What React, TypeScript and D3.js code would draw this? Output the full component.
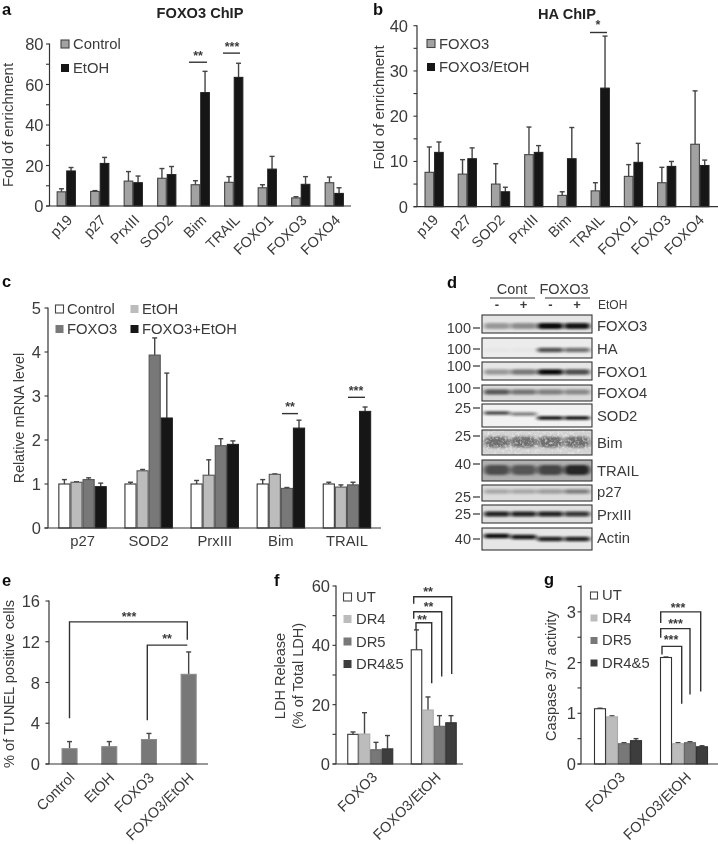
import React from "react";
import * as d3 from "d3";

// ---------- data ----------
const genesA = ["p19", "p27", "PrxIII", "SOD2", "Bim", "TRAIL", "FOXO1", "FOXO3", "FOXO4"];
const aControl = [7, 7.2, 12.3, 13.7, 10.5, 11.7, 9, 4, 11.5];
const aControlTop = [8.5, 7.6, 17, 18.5, 12.5, 14.5, 10.5, 4.6, 14.3];
const aEtOH = [17.3, 21, 11.5, 15.5, 56, 63.5, 18.2, 10.7, 6.2];
const aEtOHTop = [19, 24, 14.8, 19.5, 66.5, 70.5, 24.5, 14.5, 9];

const genesB = ["p19", "p27", "SOD2", "PrxIII", "Bim", "TRAIL", "FOXO1", "FOXO3", "FOXO4"];
const bFoxo = [7.6, 7.2, 5, 11.5, 2.5, 3.5, 6.7, 5.3, 13.8];
const bFoxoTop = [13.2, 10.4, 9.5, 17.6, 3.3, 5.3, 9.3, 8.7, 25.6];
const bEtOH = [12, 10.6, 3.3, 12, 10.6, 26.2, 9.8, 8.9, 9.1];
const bEtOHTop = [14.3, 13, 4.3, 13.5, 17.5, 37.7, 14, 10, 10.3];

const genesC = ["p27", "SOD2", "PrxIII", "Bim", "TRAIL"];
const cControl = [1, 1, 1, 1, 1];
const cControlTop = [1.1, 1.04, 1.08, 1.1, 1.04];
const cEtOH = [1.04, 1.3, 1.2, 1.22, 0.93];
const cEtOHTop = [1.05, 1.33, 1.55, 1.23, 0.98];
const cFoxo = [1.1, 3.93, 1.87, 0.9, 0.98];
const cFoxoTop = [1.14, 4.32, 2.03, 0.92, 1.04];
const cBoth = [0.94, 2.5, 1.9, 2.27, 2.65];
const cBothTop = [1.02, 3.52, 1.98, 2.45, 2.75];

const groupsE = ["Control", "EtOH", "FOXO3", "FOXO3/EtOH"];
const eValues = [1.5, 1.7, 2.4, 8.8];
const eTops = [2.2, 2.2, 3, 11];

const groupsFG = ["FOXO3", "FOXO3/EtOH"];
const fUT = [10, 38.5];
const fUTTop = [10.8, 45.2];
const fDR4 = [10.1, 18.2];
const fDR4Top = [17.3, 22.6];
const fDR5 = [4.8, 12.7];
const fDR5Top = [7.3, 16.3];
const fDR45 = [5.1, 13.9];
const fDR45Top = [9.6, 16.3];

const gUT = [1.09, 2.1];
const gUTTop = [1.1, 2.11];
const gDR4 = [0.93, 0.4];
const gDR4Top = [0.95, 0.42];
const gDR5 = [0.4, 0.42];
const gDR5Top = [0.42, 0.44];
const gDR45 = [0.46, 0.34];
const gDR45Top = [0.5, 0.36];

// relative band intensity in the four lanes of panel d
const blotFOXO3 = [0.35, 0.4, 1, 0.95];
const blotHA = [0.02, 0.02, 0.7, 0.55];
const blotFOXO1 = [0.35, 0.5, 1, 0.7];
const blotFOXO4 = [0.65, 0.5, 0.45, 0.4];
const blotSOD2 = [0.75, 0.5, 1, 1];
const blotBim = [0.5, 0.5, 0.5, 0.5];
const blotTRAIL = [0.6, 0.55, 0.65, 0.85];
const blotP27 = [0.25, 0.25, 0.3, 0.45];
const blotPrxIII = [0.9, 0.9, 0.9, 0.8];
const blotActin = [1, 0.95, 0.9, 0.9];

// ---------- style ----------
const INK = "#3a3a3a";
const FONT = "'Liberation Sans', Arial, sans-serif";
const GREY_A = "#a2a2a2";
const BLACK = "#161616";
const LIGHT = "#bcbcbc";
const MID = "#787878";
const DARK = "#3c3c3c";

type Series = { label: string; values: number[]; tops: number[]; fill: string; stroke: string };
type LegendItem = { label: string; fill: string; x: number; y: number; tx?: number };
type Bracket = { pts: [number, number][]; stars: string; sx: number; sy: number };

function Panel(p: {
  cats: string[]; series: Series[]; x0: number; x1: number; axisX: number; axisEnd?: number;
  yTop: number; yBottom: number; domainMax: number; ticks: number[]; minor: number[];
  barW: number; labelGap: number; rotate: boolean; labelSize?: number; capped?: boolean;
  brackets: Bracket[]; legend: LegendItem[]; swatch?: number; dx?: number; dy?: number;
}) {
  const x = d3.scaleBand<string>().domain(p.cats).range([p.x0, p.x1]);
  const y = d3.scaleLinear().domain([0, p.domainMax]).range([p.yBottom, p.yTop]);
  const n = p.series.length;
  const sw = p.swatch ?? 8;
  return (
    <g fontFamily={FONT} fill={INK}>
      {p.series.map((s, si) => p.cats.map((c, i) => {
        const cx = x(c)! + x.bandwidth() / 2;
        const bx = cx + (si - n / 2) * p.barW;
        const mid = bx + p.barW / 2;
        return (
          <g key={c + si}>
            <line x1={mid} x2={mid} y1={y(s.values[i])} y2={y(s.tops[i])} stroke="#444" strokeWidth={1.4} />
            <line x1={mid - 2.5} x2={mid + 2.5} y1={y(s.tops[i])} y2={y(s.tops[i])} stroke="#444" strokeWidth={1.4} />
            <rect x={bx + 0.5} y={y(s.values[i])} width={p.barW - 1} height={p.yBottom - y(s.values[i])}
              fill={s.fill} stroke={s.stroke} strokeWidth={1.1} />
          </g>
        );
      }))}
      <line x1={p.axisX} x2={p.axisX} y1={p.yTop - 0.5} y2={p.yBottom} stroke="#333" strokeWidth={1.2} />
      <line x1={p.axisX - 3.5} x2={p.axisEnd ?? p.x1} y1={p.yBottom} y2={p.yBottom} stroke="#333" strokeWidth={1.2} />
      {p.minor.concat(p.ticks).map(t => (
        <line key={t} x1={p.axisX - 3.5} x2={p.axisX} y1={y(t)} y2={y(t)} stroke="#333" strokeWidth={1.1} />
      ))}
      {p.ticks.map(t => (
        <text key={t} x={p.axisX - p.labelGap} y={y(t) + 6} fontSize={16.5} textAnchor="end">{t}</text>
      ))}
      {p.cats.map(c => {
        const cx = x(c)! + x.bandwidth() / 2;
        return p.rotate ? (
          <text key={c} transform={`translate(${cx + (p.dx ?? 7)},${p.yBottom + (p.dy ?? 15)}) rotate(-45)`}
            fontSize={p.labelSize ?? 14.5} textAnchor="end">{c}</text>
        ) : (
          <text key={c} x={cx} y={p.yBottom + 18} fontSize={14.8} textAnchor="middle">{c}</text>
        );
      })}
      {p.brackets.map((b, i) => (
        <g key={i}>
          <path d={d3.line<[number, number]>().x(d => d[0]).y(d => y(d[1]))(b.pts)!}
            fill="none" stroke="#333" strokeWidth={1.4} />
          <text x={b.sx} y={y(b.sy)} fontSize={12.5} fontWeight={700} textAnchor="middle">{b.stars}</text>
        </g>
      ))}
      {p.legend.map(l => (
        <g key={l.label}>
          <rect x={l.x} y={l.y} width={sw} height={sw} fill={l.fill}
            stroke={l.fill === "#fff" || l.fill === GREY_A || l.fill === LIGHT ? "#444" : "none"}
            strokeWidth={l.fill === LIGHT ? 0 : 1.1} />
          <text x={l.tx ?? l.x + sw + 4} y={l.y + sw + 1} fontSize={14.8}>{l.label}</text>
        </g>
      ))}
    </g>
  );
}

const blotRows: any[] = [
  { name: "FOXO3", mw: "100", tickY: 328, top: 315, bottom: 333, bg: "#e4e4e4", values: blotFOXO3, bandH: 6, mid: 326, labelY: 326 },
  { name: "HA", mw: "100", tickY: 349, top: 338, bottom: 358, bg: "#ececec", values: blotHA, bandH: 4.5, mid: 350, labelY: 349 },
  { name: "FOXO1", mw: "100", tickY: 366, top: 362, bottom: 380, bg: "#e6e6e6", values: blotFOXO1, bandH: 5.5, mid: 372, labelY: 372 },
  { name: "FOXO4", mw: "100", tickY: 388, top: 385, bottom: 401, bg: "#dadada", values: blotFOXO4, bandH: 5, mid: 392, labelY: 393 },
  { name: "SOD2", mw: "25", tickY: 408, top: 404, bottom: 427, bg: "#f2f2f2", values: blotSOD2, bandH: 3.5, mid: 416, labelY: 416, shift: [-3, -2, 2, 2] },
  { name: "Bim", mw: "25", tickY: 436, top: 430, bottom: 455, bg: "#d2d2d2", values: blotBim, bandH: 11, mid: 442, labelY: 443, noisy: true },
  { name: "TRAIL", mw: "40", tickY: 464, top: 460, bottom: 481, bg: "#b0b0b0", values: blotTRAIL, bandH: 10, mid: 470, labelY: 471 },
  { name: "p27", mw: "25", tickY: 497, top: 485, bottom: 501, bg: "#dcdcdc", values: blotP27, bandH: 4.5, mid: 491.5, labelY: 492 },
  { name: "PrxIII", mw: "25", tickY: 514, top: 505, bottom: 523, bg: "#e0e0e0", values: blotPrxIII, bandH: 5, mid: 514, labelY: 515 },
  { name: "Actin", mw: "40", tickY: 539, top: 528, bottom: 550, bg: "#e6e6e6", values: blotActin, bandH: 4.5, mid: 538, labelY: 538, shift: [-2, -1, 1, 1] },
];
const lanes = ["Cont-", "Cont+", "FOXO3-", "FOXO3+"];
const laneSigns = ["-", "+", "-", "+"];

function Blots() {
  const lane = d3.scalePoint<string>().domain(lanes).range([497, 577]);
  return (
    <g fontFamily={FONT} fill={INK}>
      <text x={512} y={294} fontSize={14.5} textAnchor="middle">Cont</text>
      <text x={564} y={294} fontSize={14.5} textAnchor="middle">FOXO3</text>
      <line x1={490} x2={535} y1={298} y2={298} stroke="#333" strokeWidth={1.1} />
      <line x1={545} x2={590} y1={298} y2={298} stroke="#333" strokeWidth={1.1} />
      {lanes.map((l, i) => (
        <text key={l} x={lane(l)} y={309} fontSize={13} fontWeight={700} textAnchor="middle">{laneSigns[i]}</text>
      ))}
      <text x={598} y={309} fontSize={12}>EtOH</text>
      {blotRows.map(r => (
        <g key={r.name}>
          <clipPath id={`clip-${r.name}`}><rect x={482} y={r.top} width={110} height={r.bottom - r.top} /></clipPath>
          <rect x={482} y={r.top} width={110} height={r.bottom - r.top} fill={r.bg} />
          <g clipPath={`url(#clip-${r.name})`}>
            {r.values.map((v: number, i: number) => (
              <rect key={i} x={lane(lanes[i])! - 13} y={r.mid + (r.shift ? r.shift[i] : 0) - r.bandH / 2} width={26} height={r.bandH} rx={r.bandH / 2}
                fill="#0c0c0c" opacity={v} filter="url(#bandBlur)" />
            ))}
            {r.noisy && <rect x={482} y={r.top} width={110} height={r.bottom - r.top} filter="url(#noise)" />}
          </g>
          <rect x={482} y={r.top} width={110} height={r.bottom - r.top} fill="none" stroke="#333" strokeWidth={1.1} />
          <line x1={473} x2={480} y1={r.tickY} y2={r.tickY} stroke="#333" strokeWidth={1.2} />
          <text x={471} y={r.tickY + 5} fontSize={14.5} textAnchor="end">{r.mw}</text>
          <text x={597} y={r.labelY + 5} fontSize={14.8}>{r.name}</text>
        </g>
      ))}
    </g>
  );
}

function YLabel({ x, y, text, size = 15 }: { x: number; y: number; text: string; size?: number }) {
  return <text transform={`translate(${x},${y}) rotate(-90)`} textAnchor="middle" fontSize={size} fontFamily={FONT} fill={INK}>{text}</text>;
}
function Letter({ x, y, t }: { x: number; y: number; t: string }) {
  return <text x={x} y={y} fontSize={16.5} fontWeight={700} fontFamily={FONT} fill="#111">{t}</text>;
}

export default function App() {
  return (
    <svg width={718} height={844} style={{ position: "absolute", left: 0, top: 0, background: "#fff" }}>
      <defs>
        <filter id="soft" x="0" y="0" width="100%" height="100%"><feGaussianBlur stdDeviation="0.35" /></filter>
        <filter id="bandBlur" x="-30%" y="-200%" width="160%" height="500%"><feGaussianBlur stdDeviation="2 1.3" /></filter>
        <filter id="noise" x="0" y="0" width="100%" height="100%">
          <feTurbulence type="fractalNoise" baseFrequency="0.4" numOctaves="2" seed="4" />
          <feColorMatrix type="matrix" values="0 0 0 0 0.9  0 0 0 0 0.9  0 0 0 0 0.9  1.8 0 0 0 -0.85" />
          <feGaussianBlur stdDeviation="0.5" />
        </filter>
      </defs>
      <g filter="url(#soft)">
        <Letter x={2} y={15} t="a" />
        <Letter x={373} y={15} t="b" />
        <Letter x={2} y={287} t="c" />
        <Letter x={447} y={288} t="d" />
        <Letter x={2} y={586} t="e" />
        <Letter x={274} y={586} t="f" />
        <Letter x={544} y={585} t="g" />
        <text x={200} y={18} fontSize={14.6} fontWeight={700} textAnchor="middle" fontFamily={FONT} fill="#222">FOXO3 ChIP</text>
        <text x={567} y={19} fontSize={14.6} fontWeight={700} textAnchor="middle" fontFamily={FONT} fill="#222">HA ChIP</text>

        <YLabel x={13} y={125} text="Fold of enrichment" />
        <Panel cats={genesA} x0={49.5} x1={351} axisX={49.5} yTop={44} yBottom={206} domainMax={80}
          ticks={[0, 20, 40, 60, 80]} minor={[10, 30, 50, 70]} barW={9.6} labelGap={6} rotate
          series={[
            { label: "Control", values: aControl, tops: aControlTop, fill: GREY_A, stroke: "#444" },
            { label: "EtOH", values: aEtOH, tops: aEtOHTop, fill: BLACK, stroke: "#222" },
          ]}
          brackets={[
            { pts: [[189, 71], [207, 71]], stars: "**", sx: 198, sy: 72 },
            { pts: [[223, 75.5], [240, 75.5]], stars: "***", sx: 232, sy: 76.5 },
          ]}
          legend={[
            { label: "Control", fill: GREY_A, x: 61, y: 40, tx: 73 },
            { label: "EtOH", fill: BLACK, x: 61, y: 64, tx: 73 },
          ]} />

        <YLabel x={384} y={107.5} text="Fold of enrichment" />
        <Panel cats={genesB} x0={417.5} x1={716.5} axisX={417} axisEnd={718} yTop={25.7} yBottom={206.7} domainMax={40}
          ticks={[0, 10, 20, 30, 40]} minor={[5, 15, 25, 35]} barW={9.6} labelGap={9} rotate dx={5} dy={14}
          series={[
            { label: "FOXO3", values: bFoxo, tops: bFoxoTop, fill: GREY_A, stroke: "#444" },
            { label: "FOXO3/EtOH", values: bEtOH, tops: bEtOHTop, fill: BLACK, stroke: "#222" },
          ]}
          brackets={[{ pts: [[590, 38.5], [607, 38.5]], stars: "*", sx: 598, sy: 39.2 }]}
          legend={[
            { label: "FOXO3", fill: GREY_A, x: 427, y: 39.5, tx: 439 },
            { label: "FOXO3/EtOH", fill: BLACK, x: 427, y: 63, tx: 439 },
          ]} />

        <YLabel x={24} y={418} text="Relative mRNA level" size={14.3} />
        <Panel cats={genesC} x0={49.5} x1={380} axisX={48} axisEnd={381} yTop={308} yBottom={528} domainMax={5}
          ticks={[0, 1, 2, 3, 4, 5]} minor={[]} barW={12.1} labelGap={7} rotate={false}
          series={[
            { label: "Control", values: cControl, tops: cControlTop, fill: "#fff", stroke: "#333" },
            { label: "EtOH", values: cEtOH, tops: cEtOHTop, fill: LIGHT, stroke: "#555" },
            { label: "FOXO3", values: cFoxo, tops: cFoxoTop, fill: MID, stroke: "#555" },
            { label: "FOXO3+EtOH", values: cBoth, tops: cBothTop, fill: BLACK, stroke: "#222" },
          ]}
          brackets={[
            { pts: [[282, 2.6], [298, 2.6]], stars: "**", sx: 290, sy: 2.65 },
            { pts: [[348, 2.97], [365, 2.97]], stars: "***", sx: 356, sy: 3.02 },
          ]}
          legend={[
            { label: "Control", fill: "#fff", x: 55.5, y: 305, tx: 67 },
            { label: "EtOH", fill: LIGHT, x: 130.5, y: 305, tx: 142 },
            { label: "FOXO3", fill: MID, x: 55.5, y: 325, tx: 67 },
            { label: "FOXO3+EtOH", fill: BLACK, x: 130.5, y: 325, tx: 142 },
          ]} />

        <Blots />

        <YLabel x={14} y={684} text="% of TUNEL positive cells" size={14.7} />
        <Panel cats={groupsE} x0={49.7} x1={208.5} axisX={49} axisEnd={208} yTop={601} yBottom={764} domainMax={16}
          ticks={[0, 4, 8, 12, 16]} minor={[]} barW={16} labelGap={9} rotate dx={6} dy={14.5}
          series={[{ label: "TUNEL", values: eValues, tops: eTops, fill: MID, stroke: "#8a8a8a" }]}
          brackets={[
            { pts: [[69.5, 4.5], [69.5, 13.95], [187.3, 13.95], [187.3, 12.2]], stars: "***", sx: 129, sy: 14.0 },
            { pts: [[147.3, 4.3], [147.3, 11.67], [187.3, 11.67]], stars: "**", sx: 167, sy: 11.9 },
          ]}
          legend={[]} />

        <YLabel x={285} y={676} text="LDH Release" size={14.5} />
        <YLabel x={303} y={676} text="(% of Total LDH)" size={14.5} />
        <Panel cats={groupsFG} x0={338.5} x1={465.5} axisX={336} axisEnd={463} yTop={586} yBottom={764} domainMax={60}
          ticks={[0, 20, 40, 60]} minor={[10, 30, 50]} barW={11.5} labelGap={6} rotate dx={8} dy={14}
          series={[
            { label: "UT", values: fUT, tops: fUTTop, fill: "#fff", stroke: "#333" },
            { label: "DR4", values: fDR4, tops: fDR4Top, fill: LIGHT, stroke: "#aaa" },
            { label: "DR5", values: fDR5, tops: fDR5Top, fill: MID, stroke: "#666" },
            { label: "DR4&5", values: fDR45, tops: fDR45Top, fill: DARK, stroke: "#333" },
          ]}
          brackets={[
            { pts: [[413.7, 54], [413.7, 56.4], [451.7, 56.4], [451.7, 30.3]], stars: "**", sx: 428, sy: 56.6 },
            { pts: [[413.7, 49], [413.7, 51.3], [441.7, 51.3], [441.7, 29.5]], stars: "**", sx: 428.5, sy: 51.5 },
            { pts: [[416, 45.2], [416, 47.6], [431.7, 47.6], [431.7, 27.2]], stars: "**", sx: 422, sy: 47.2 },
          ]}
          legend={[
            { label: "UT", fill: "#fff", x: 343.5, y: 593, tx: 356 },
            { label: "DR4", fill: LIGHT, x: 343.5, y: 615, tx: 356 },
            { label: "DR5", fill: MID, x: 343.5, y: 637.5, tx: 356 },
            { label: "DR4&5", fill: DARK, x: 343.5, y: 660, tx: 356 },
          ]} />

        <YLabel x={556} y={676} text="Caspase 3/7 activity" size={14.5} />
        <Panel cats={groupsFG} x0={585} x1={717} axisX={581} axisEnd={718} yTop={586} yBottom={764} domainMax={3.51}
          ticks={[0, 1, 2, 3]} minor={[0.5, 1.5, 2.5, 3.5]} barW={12} labelGap={5} rotate dx={8} dy={14}
          series={[
            { label: "UT", values: gUT, tops: gUTTop, fill: "#fff", stroke: "#333" },
            { label: "DR4", values: gDR4, tops: gDR4Top, fill: LIGHT, stroke: "#aaa" },
            { label: "DR5", values: gDR5, tops: gDR5Top, fill: MID, stroke: "#666" },
            { label: "DR4&5", values: gDR45, tops: gDR45Top, fill: DARK, stroke: "#333" },
          ]}
          brackets={[
            { pts: [[660.7, 2.78], [660.7, 3.0], [700.7, 3.0], [700.7, 1.43]], stars: "***", sx: 678, sy: 3.0 },
            { pts: [[660.7, 2.49], [660.7, 2.67], [690, 2.67], [690, 1.37]], stars: "***", sx: 675.5, sy: 2.68 },
            { pts: [[662, 2.16], [662, 2.32], [681.7, 2.32], [681.7, 1.19]], stars: "***", sx: 671, sy: 2.37 },
          ]}
          swatch={7}
          legend={[
            { label: "UT", fill: "#fff", x: 590.5, y: 592, tx: 602 },
            { label: "DR4", fill: LIGHT, x: 590.5, y: 614.5, tx: 602 },
            { label: "DR5", fill: MID, x: 590.5, y: 637, tx: 602 },
            { label: "DR4&5", fill: DARK, x: 590.5, y: 659.5, tx: 602 },
          ]} />
      </g>
    </svg>
  );
}
